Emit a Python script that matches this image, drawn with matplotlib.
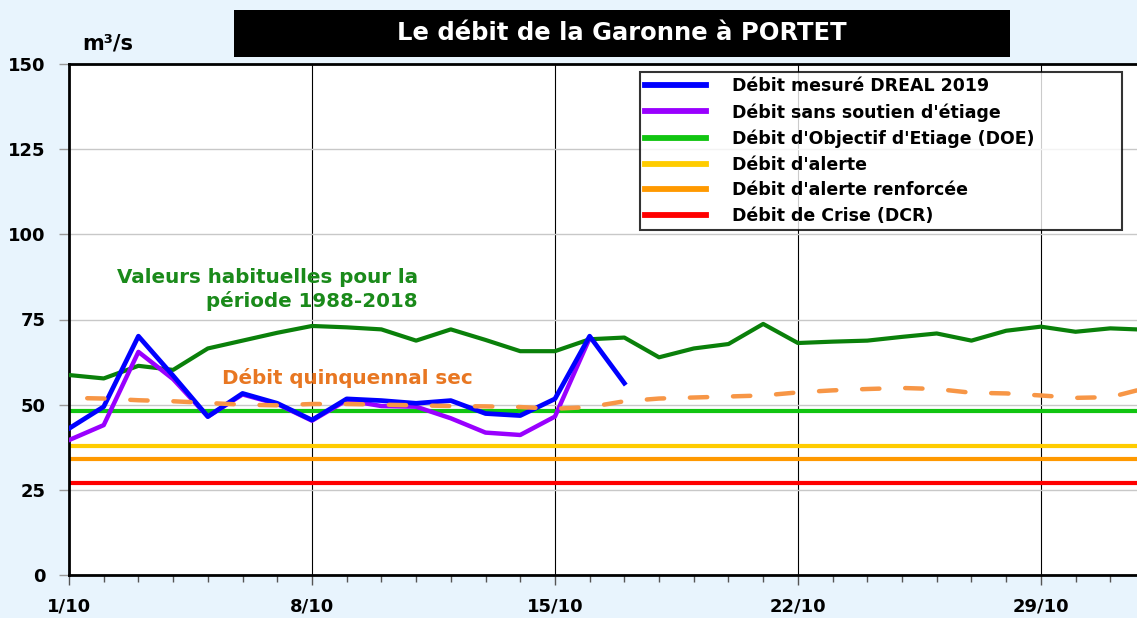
import numpy as np
import matplotlib.pyplot as plt

plt.rcParams['font.family'] = ['DejaVu Sans']

# jours depuis le 1/10
jours = np.arange(0, 32)
jours_mesure = np.arange(0, 17)
jours_sans = np.arange(0, 16)

debit_dreal = [43.0, 49.4, 70.1, 58.5, 46.5, 53.3, 50.4, 45.5, 51.7, 51.2,
               50.4, 51.2, 47.4, 46.8, 51.7, 70.1, 56.3]
debit_sans_soutien = [39.6, 44.0, 65.5, 57.5, 46.5, 53.0, 50.2, 45.3, 51.3, 49.6,
                      49.4, 46.0, 41.8, 41.1, 46.5, 69.5]
valeurs_habituelles = [58.7, 57.7, 61.4, 60.2, 66.5, 68.8, 71.1, 73.1, 72.7, 72.1,
                       68.8, 72.1, 69.0, 65.7, 65.7, 69.2, 69.7, 63.9, 66.5, 67.8,
                       73.7, 68.1, 68.5, 68.8, 69.9, 70.9, 68.8, 71.7, 72.9, 71.4,
                       72.4, 72.0]
quinquennal_sec = [52.0, 51.8, 51.3, 51.0, 50.5, 50.0, 49.8, 50.2, 50.2, 50.0,
                   49.8, 49.6, 49.5, 49.3, 48.8, 49.3, 51.0, 51.8, 52.1, 52.4,
                   52.7, 53.6, 54.2, 54.6, 54.9, 54.6, 53.5, 53.3, 52.7, 52.0,
                   52.2, 54.8]

doe = 48
alerte = 38
alerte_renforcee = 34
crise = 27

xticks = [0, 7, 14, 21, 28]
xtick_labels = ['1/10', '8/10', '15/10', '22/10', '29/10']
yticks = [0, 25, 50, 75, 100, 125, 150]

fond = '#e8f4fd'
fig = plt.figure(figsize=(11.37, 6.18), dpi=100, facecolor=fond)
ax = fig.add_axes([69/1137, 1 - 575/618, 1 - 69/1137, (575 - 64)/618])
ax.set_facecolor('white')

l_doe = ax.axhline(doe, color='#11c511', lw=3, zorder=2, label="Débit d'Objectif d'Etiage (DOE)")
l_al = ax.axhline(alerte, color='#ffcc00', lw=3, zorder=2, label="Débit d'alerte")
l_ar = ax.axhline(alerte_renforcee, color='#ff9900', lw=3, zorder=2, label="Débit d'alerte renforcée")
l_cr = ax.axhline(crise, color='#ff0000', lw=3, zorder=2, label="Débit de Crise (DCR)")

ax.plot(jours, valeurs_habituelles, color='#0a800a', lw=3, zorder=3)
l_sans, = ax.plot(jours_sans, debit_sans_soutien, color='#9900ff', lw=3.2, zorder=4,
                  label="Débit sans soutien d'étiage")
l_dreal, = ax.plot(jours_mesure, debit_dreal, color='#0000ff', lw=3.4, zorder=5,
                   label="Débit mesuré DREAL 2019")
ax.plot(jours, quinquennal_sec, color='#f79646', lw=3.2, ls=(5.6, (3.9, 5.8)),
        dash_capstyle='round', zorder=6)

ax.set_xlim(0, 30.77)
ax.set_ylim(0, 150)
ax.set_yticks(yticks)
ax.set_yticklabels([str(v) for v in yticks], fontsize=13, fontweight='bold')
ax.set_xticks(xticks)
ax.set_xticklabels(xtick_labels, fontsize=13, fontweight='bold')
ax.set_xticks(jours[:31], minor=True)
ax.tick_params(axis='y', direction='out', length=7, width=1, color='#999999', pad=10)
ax.tick_params(axis='x', which='both', direction='out', length=5, width=1, color='#555555', pad=9)
ax.tick_params(axis='x', which='major', length=7)

ax.grid(axis='y', color='#c8c8c8', lw=1, zorder=0)
for x in xticks[1:]:
    ax.axvline(x, color='black', lw=0.8, zorder=1)

for s in ['left', 'bottom', 'top']:
    ax.spines[s].set_linewidth(2)
    ax.spines[s].set_color('black')
ax.spines['right'].set_visible(False)

ax.text(0.012, 1.02, 'm³/s', transform=ax.transAxes, fontsize=15, fontweight='bold',
        ha='left', va='bottom')

ax.text(10.05, 83.8, 'Valeurs habituelles pour la\npériode 1988-2018', color='#1a8a1a',
        fontsize=14.3, fontweight='bold', ha='right', va='center', linespacing=1.3)
ax.text(4.41, 57.8, 'Débit quinquennal sec', color='#e87722', fontsize=14.3,
        fontweight='bold', ha='left', va='center')

leg = ax.legend(handles=[l_dreal, l_sans, l_doe, l_al, l_ar, l_cr], loc='upper left',
                bbox_to_anchor=((640 - 69)/1068, (575 - 72)/511, (1122 - 640)/1068, 0.0),
                mode='expand', frameon=True, fancybox=False,
                edgecolor='black', handlelength=3.5, handletextpad=1.5, labelspacing=0.45,
                borderpad=0.3, borderaxespad=0, prop={'weight': 'bold', 'size': 12.5})
leg.get_frame().set_linewidth(1.5)
for h in leg.get_lines():
    h.set_linewidth(4.2)

# titre dans un cadre noir
fig.patches.append(plt.Rectangle((234/1137, 1 - 57/618), (1010 - 234)/1137, 47/618,
                                 transform=fig.transFigure, facecolor='black',
                                 edgecolor='none', zorder=0))
fig.text(622/1137, 1 - 33/618, 'Le débit de la Garonne à PORTET', color='white',
         fontsize=17.5, fontweight='bold', ha='center', va='center')

fig.savefig('out.png', dpi=100, facecolor=fond)
